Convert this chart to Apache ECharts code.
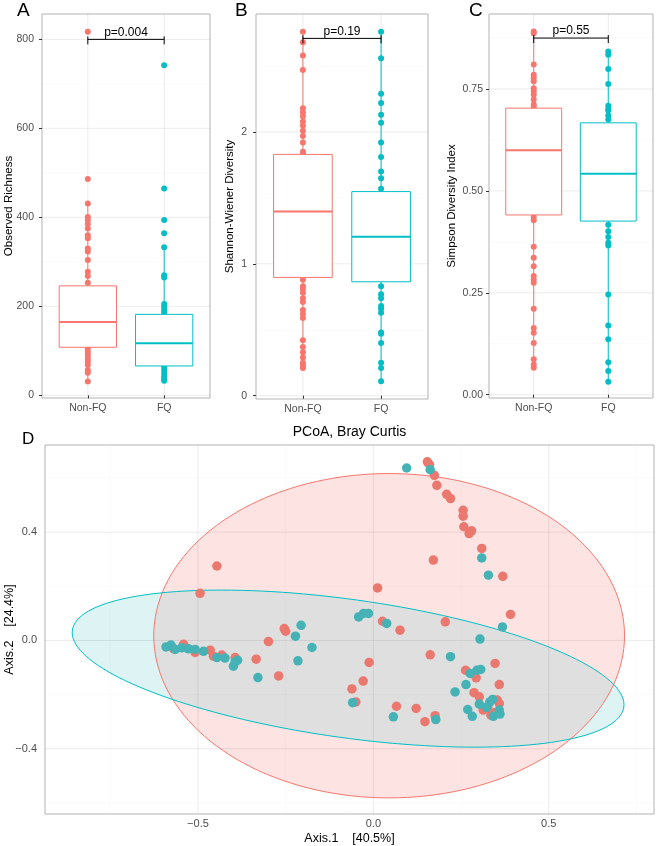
<!DOCTYPE html>
<html><head><meta charset="utf-8">
<script src="https://cdn.jsdelivr.net/npm/echarts@6/dist/echarts.min.js"></script>
<style>html,body{margin:0;padding:0;background:#fff}#c{width:657px;height:846px}</style>
</head><body><div id="c"></div>
<script>
const categories = ['Non-FQ', 'FQ'];

// Panel A: Observed Richness (visible points)
const richnessNonFQ = [817, 486, 431, 401, 394, 385, 375, 360, 353, 330, 323, 304, 278, 268, 253, 106, 98, 91, 83, 76, 68, 57, 51, 31];
const richnessFQ = [742, 465, 394, 364, 333, 270, 265, 205, 199, 192, 186, 64, 57, 49, 42, 36, 33];
// box stats: [lower whisker, Q1, median, Q3, upper whisker]
const richnessBoxNonFQ = [31, 108, 165, 246, 431];
const richnessBoxFQ = [33, 66, 117, 182, 333];
const richnessTicks = [0, 200, 400, 600, 800];
const richnessMinor = [100, 300, 500, 700];
const richnessBracket = [1, 2, 800];
const richnessP = 'p=0.004';

// Panel B: Shannon-Wiener Diversity
const shannonNonFQ = [2.76, 2.68, 2.58, 2.47, 2.18, 2.15, 2.12, 2.08, 2.05, 2.01, 1.97, 1.92, 1.85, 1.84, 0.88, 0.83, 0.81, 0.78, 0.74, 0.71, 0.65, 0.62, 0.59, 0.42, 0.37, 0.33, 0.29, 0.25, 0.23, 0.21];
const shannonFQ = [2.76, 2.56, 2.29, 2.22, 2.13, 2.07, 1.92, 1.81, 1.70, 1.65, 1.57, 0.83, 0.77, 0.74, 0.68, 0.66, 0.63, 0.48, 0.47, 0.40, 0.25, 0.21, 0.11];
const shannonBoxNonFQ = [0.21, 0.897, 1.397, 1.83, 2.76];
const shannonBoxFQ = [0.11, 0.864, 1.205, 1.548, 2.76];
const shannonTicks = [0, 1, 2];
const shannonMinor = [0.5, 1.5, 2.5];
const shannonBracket = [1, 2, 2.71];
const shannonP = 'p=0.19';

// Panel C: Simpson Diversity Index
const simpsonNonFQ = [0.891, 0.887, 0.81, 0.785, 0.777, 0.769, 0.752, 0.744, 0.736, 0.724, 0.712, 0.706, 0.436, 0.428, 0.363, 0.336, 0.315, 0.291, 0.283, 0.275, 0.211, 0.164, 0.152, 0.127, 0.087, 0.074, 0.066];
const simpsonFQ = [0.842, 0.834, 0.799, 0.762, 0.709, 0.701, 0.697, 0.685, 0.675, 0.417, 0.401, 0.387, 0.373, 0.366, 0.246, 0.170, 0.136, 0.080, 0.058, 0.032];
const simpsonBoxNonFQ = [0.066, 0.441, 0.600, 0.703, 0.891];
const simpsonBoxFQ = [0.032, 0.426, 0.542, 0.667, 0.842];
const simpsonTicks = [0, 0.25, 0.5, 0.75];
const simpsonMinor = [0.125, 0.375, 0.625, 0.875];
const simpsonBracket = [1, 2, 0.875];
const simpsonP = 'p=0.55';

// Panel D: PCoA, Bray Curtis  [Axis.1, Axis.2]
const pcoaNonFQ = [
 [-0.446,0.275],[-0.494,0.174],[-0.254,0.044],[-0.250,0.034],[-0.299,-0.004],[-0.334,-0.069],[-0.270,-0.131],
 [-0.570,-0.030],[-0.541,-0.014],[-0.508,-0.044],[-0.465,-0.036],[-0.456,-0.058],[-0.432,-0.054],[-0.394,-0.063],
 [0.154,0.660],[0.160,0.650],[0.174,0.610],[0.181,0.573],[0.209,0.540],[0.220,0.524],[0.256,0.481],[0.256,0.459],
 [0.258,0.420],[0.273,0.395],[0.280,0.405],[0.309,0.340],[0.171,0.297],[0.369,0.237],[0.012,0.194],[0.391,0.096],
 [0.026,0.071],[0.076,0.038],[0.205,0.069],[0.162,-0.053],[-0.012,-0.081],[0.347,-0.085],[0.263,-0.110],[0.293,-0.138],
 [-0.029,-0.150],[-0.061,-0.179],[0.359,-0.163],[0.287,-0.193],[-0.050,-0.227],[0.302,-0.208],[0.066,-0.243],[0.122,-0.251],
 [0.147,-0.300],[0.176,-0.278],[0.313,-0.257],[0.335,-0.276],[0.353,-0.220],[0.359,-0.233],[0.344,-0.267],[0.326,-0.247]
];
const pcoaFQ = [
 [-0.206,0.056],[-0.222,0.016],[-0.175,-0.026],[-0.215,-0.075],[-0.329,-0.137],
 [-0.591,-0.024],[-0.577,-0.017],[-0.565,-0.033],[-0.546,-0.027],[-0.527,-0.031],[-0.508,-0.033],[-0.484,-0.040],
 [-0.446,-0.063],[-0.423,-0.065],[-0.399,-0.095],[-0.394,-0.079],[-0.387,-0.073],
 [0.095,0.637],[0.162,0.631],[0.309,0.305],[0.328,0.241],[0.368,0.050],[-0.042,0.087],[-0.028,0.100],[-0.014,0.100],
 [0.038,0.063],[0.304,0.005],[0.220,-0.060],[0.276,-0.122],[0.295,-0.110],[0.306,-0.107],[0.264,-0.163],[0.233,-0.190],
 [-0.059,-0.230],[0.057,-0.282],[0.178,-0.292],[0.269,-0.255],[0.282,-0.280],[0.302,-0.235],[0.332,-0.227],[0.340,-0.218],
 [0.359,-0.257],[0.361,-0.272],[0.342,-0.280],[0.323,-0.247]
];
// ellipses: [cx, cy, axis1x, axis1y, axis2x, axis2y] in data units
const ellipseNonFQ = [0.045, 0.0175, 0.671, 0.0, 0.0, 0.599];
const ellipseFQ = [-0.072, -0.104, 0.786, -0.142, -0.027, -0.253];
const pcoaXTicks = [-0.5, 0, 0.5];
const pcoaXMinor = [-0.75, -0.25, 0.25, 0.75];
const pcoaYTicks = [-0.4, 0, 0.4];
const pcoaYMinor = [-0.6, -0.2, 0.2, 0.6];

const RED = '#F8766D', TEAL = '#00BFC4';
const FONT = '"Liberation Sans", Arial, sans-serif';
const catPos = [1, 2];

function gridLinesSeries(gi, xMaj, xMin, yMaj, yMin, z) {
  const data = [];
  xMin.forEach(v => data.push([1, v, 0]));
  yMin.forEach(v => data.push([0, v, 0]));
  xMaj.forEach(v => data.push([1, v, 1]));
  yMaj.forEach(v => data.push([0, v, 1]));
  return {
    type: 'custom', xAxisIndex: gi, yAxisIndex: gi, silent: true, z, data,
    renderItem: (params, api) => {
      const cs = params.coordSys;
      const o = api.value(0), v = api.value(1), maj = api.value(2);
      const style = { stroke: maj ? 'rgba(0,0,0,0.08)' : 'rgba(0,0,0,0.04)', lineWidth: maj ? 1 : 0.6 };
      if (o === 0) {
        const y = api.coord([0, v])[1];
        return { type: 'line', shape: { x1: cs.x, y1: y, x2: cs.x + cs.width, y2: y }, style };
      }
      const x = api.coord([v, 0])[0];
      return { type: 'line', shape: { x1: x, y1: cs.y, x2: x, y2: cs.y + cs.height }, style };
    }
  };
}

function pointsSeries(gi, vals, cat, color) {
  return { type: 'scatter', xAxisIndex: gi, yAxisIndex: gi, z: 2, symbolSize: 6, silent: true,
    itemStyle: { color, opacity: 1 }, data: vals.map(v => [cat, v]) };
}

function boxSeries(gi, boxA, boxB) {
  const colors = [RED, TEAL];
  return {
    type: 'custom', xAxisIndex: gi, yAxisIndex: gi, z: 3, silent: true,
    encode: { x: 0, y: [1, 2, 3, 4, 5] },
    data: [[1].concat(boxA), [2].concat(boxB)],
    renderItem: (params, api) => {
      const c = colors[params.dataIndex];
      const x = api.value(0);
      const lo = api.coord([x, api.value(1)]), q1 = api.coord([x, api.value(2)]),
            md = api.coord([x, api.value(3)]), q3 = api.coord([x, api.value(4)]), hi = api.coord([x, api.value(5)]);
      const l = api.coord([x - 0.375, 0])[0], r = api.coord([x + 0.375, 0])[0];
      return { type: 'group', children: [
        { type: 'line', shape: { x1: lo[0], y1: lo[1], x2: q1[0], y2: q1[1] }, style: { stroke: c, lineWidth: 1 } },
        { type: 'line', shape: { x1: q3[0], y1: q3[1], x2: hi[0], y2: hi[1] }, style: { stroke: c, lineWidth: 1 } },
        { type: 'rect', shape: { x: l, y: q3[1], width: r - l, height: q1[1] - q3[1] }, style: { fill: '#fff', stroke: c, lineWidth: 1 } },
        { type: 'line', shape: { x1: l, y1: md[1], x2: r, y2: md[1] }, style: { stroke: c, lineWidth: 2 } }
      ]};
    }
  };
}

function bracketSeries(gi, br, label) {
  return {
    type: 'custom', xAxisIndex: gi, yAxisIndex: gi, z: 4, silent: true,
    data: [br],
    renderItem: (params, api) => {
      const p1 = api.coord([api.value(0), api.value(2)]), p2 = api.coord([api.value(1), api.value(2)]);
      const st = { stroke: '#000', lineWidth: 1 };
      return { type: 'group', children: [
        { type: 'line', shape: { x1: p1[0], y1: p1[1], x2: p2[0], y2: p2[1] }, style: st },
        { type: 'line', shape: { x1: p1[0], y1: p1[1] - 3, x2: p1[0], y2: p1[1] + 5 }, style: st },
        { type: 'line', shape: { x1: p2[0], y1: p2[1] - 3, x2: p2[0], y2: p2[1] + 5 }, style: st },
        { type: 'text', x: (p1[0] + p2[0]) / 2, y: p1[1] - 1,
          style: { text: label, fill: '#000', font: '12px ' + FONT, align: 'center', verticalAlign: 'bottom' } }
      ]};
    }
  };
}

function ellipsePoints(e, api) {
  const pts = [];
  for (let i = 0; i < 160; i++) {
    const t = i / 160 * Math.PI * 2;
    const x = e[0] + e[2] * Math.cos(t) + e[4] * Math.sin(t);
    const y = e[1] + e[3] * Math.cos(t) + e[5] * Math.sin(t);
    pts.push(api.coord([x, y]));
  }
  return pts;
}
// Sutherland-Hodgman clipping of a polygon by a convex polygon
function clipPoly(subject, clip) {
  let area = 0;
  for (let i = 0; i < clip.length; i++) { const a = clip[i], b = clip[(i + 1) % clip.length]; area += a[0] * b[1] - b[0] * a[1]; }
  const s = Math.sign(area);
  const inside = (p, a, b) => s * ((b[0] - a[0]) * (p[1] - a[1]) - (b[1] - a[1]) * (p[0] - a[0])) >= 0;
  const inter = (p, q, a, b) => {
    const d = (p[0] - q[0]) * (a[1] - b[1]) - (p[1] - q[1]) * (a[0] - b[0]);
    const t = ((p[0] - a[0]) * (a[1] - b[1]) - (p[1] - a[1]) * (a[0] - b[0])) / d;
    return [p[0] + t * (q[0] - p[0]), p[1] + t * (q[1] - p[1])];
  };
  let out = subject;
  for (let i = 0; i < clip.length && out.length; i++) {
    const a = clip[i], b = clip[(i + 1) % clip.length];
    const inp = out; out = [];
    for (let j = 0; j < inp.length; j++) {
      const p = inp[j], q = inp[(j + 1) % inp.length];
      const pin = inside(p, a, b), qin = inside(q, a, b);
      if (pin) { out.push(p); if (!qin) out.push(inter(p, q, a, b)); }
      else if (qin) out.push(inter(p, q, a, b));
    }
  }
  return out;
}
function ellipseFill(e, fill) {
  return {
    type: 'custom', xAxisIndex: 3, yAxisIndex: 3, z: 2, silent: true, data: [[0, 0]],
    renderItem: (params, api) => ({ type: 'polygon', shape: { points: ellipsePoints(e, api) }, style: { fill, stroke: null } })
  };
}
function overlapFill(e1, e2, fill) {
  return {
    type: 'custom', xAxisIndex: 3, yAxisIndex: 3, z: 2, silent: true, data: [[0, 0]],
    renderItem: (params, api) => ({ type: 'polygon', shape: { points: clipPoly(ellipsePoints(e1, api), ellipsePoints(e2, api)) }, style: { fill, stroke: null } })
  };
}
function ellipseOutline(e, stroke) {
  return {
    type: 'custom', xAxisIndex: 3, yAxisIndex: 3, z: 4, silent: true, data: [[0, 0]],
    renderItem: (params, api) => ({ type: 'polygon', shape: { points: ellipsePoints(e, api) }, style: { fill: null, stroke, lineWidth: 1 } })
  };
}

function catAxis(gi) {
  return { type: 'value', gridIndex: gi, min: 0.4, max: 2.6,
    splitLine: { show: false }, axisLine: { show: false },
    axisTick: { show: true, length: 3, lineStyle: { color: '#333' }, customValues: catPos },
    axisLabel: { customValues: catPos, formatter: v => categories[Math.round(v) - 1], fontSize: 10.5, color: '#4d4d4d', margin: 5, fontFamily: FONT } };
}
function valAxis(gi, min, max, ticks, fmt, name, gap, margin, fs, nfs) {
  return { type: 'value', gridIndex: gi, min, max,
    name, nameLocation: 'middle', nameGap: gap, nameMoveOverlap: false,
    nameTextStyle: { fontSize: nfs, color: '#000', fontFamily: FONT },
    splitLine: { show: false }, axisLine: { show: false },
    axisTick: { show: true, length: 3, lineStyle: { color: '#333' }, customValues: ticks },
    axisLabel: { customValues: ticks, formatter: fmt, fontSize: fs, color: '#4d4d4d', margin, fontFamily: FONT } };
}
const minusFmt = d => (v => (v < 0 ? '\u2212' : '') + Math.abs(v).toFixed(d));

const gridStyle = { show: true, borderColor: '#b3b3b3', borderWidth: 1, backgroundColor: '#fff', containLabel: false, outerBoundsMode: 'none' };
const option = {
  backgroundColor: '#fff',
  animation: false,
  textStyle: { fontFamily: FONT },
  grid: [
    Object.assign({ left: 42, top: 14, width: 168, height: 384 }, gridStyle),
    Object.assign({ left: 256, top: 14, width: 172, height: 385 }, gridStyle),
    Object.assign({ left: 489, top: 14, width: 164, height: 384 }, gridStyle),
    Object.assign({ left: 45, top: 445, width: 609, height: 369 }, gridStyle)
  ],
  xAxis: [catAxis(0), catAxis(1), catAxis(2),
    { type: 'value', gridIndex: 3, min: -0.936, max: 0.80,
      name: 'Axis.1    [40.5%]', nameLocation: 'middle', nameGap: 18, nameMoveOverlap: false,
      nameTextStyle: { fontSize: 12.5, color: '#000', fontFamily: FONT },
      splitLine: { show: false }, axisLine: { show: false },
      axisTick: { show: true, length: 3, lineStyle: { color: '#333' }, customValues: pcoaXTicks },
      axisLabel: { customValues: pcoaXTicks, formatter: minusFmt(1), fontSize: 11, color: '#4d4d4d', margin: 4, fontFamily: FONT } }
  ],
  yAxis: [
    valAxis(0, -6, 857, richnessTicks, v => String(v), 'Observed Richness', 27, 8, 10.5, 11.5),
    valAxis(1, -0.025, 2.895, shannonTicks, v => String(v), 'Shannon-Wiener Diversity', 20, 9, 10.5, 11.5),
    valAxis(2, -0.008, 0.934, simpsonTicks, v => v.toFixed(2), 'Simpson Diversity Index', 31, 6, 10.5, 11.5),
    valAxis(3, -0.641, 0.722, pcoaYTicks, minusFmt(1), 'Axis.2    [24.4%]', 29, 8, 11, 12.5)
  ],
  series: [
    gridLinesSeries(0, catPos, [], richnessTicks, richnessMinor, 1),
    gridLinesSeries(1, catPos, [], shannonTicks, shannonMinor, 1),
    gridLinesSeries(2, catPos, [], simpsonTicks, simpsonMinor, 1),
    pointsSeries(0, richnessNonFQ, 1, RED), pointsSeries(0, richnessFQ, 2, TEAL),
    pointsSeries(1, shannonNonFQ, 1, RED), pointsSeries(1, shannonFQ, 2, TEAL),
    pointsSeries(2, simpsonNonFQ, 1, RED), pointsSeries(2, simpsonFQ, 2, TEAL),
    boxSeries(0, richnessBoxNonFQ, richnessBoxFQ),
    boxSeries(1, shannonBoxNonFQ, shannonBoxFQ),
    boxSeries(2, simpsonBoxNonFQ, simpsonBoxFQ),
    bracketSeries(0, richnessBracket, richnessP),
    bracketSeries(1, shannonBracket, shannonP),
    bracketSeries(2, simpsonBracket, simpsonP),
    ellipseFill(ellipseNonFQ, '#FDE4E3'),
    ellipseFill(ellipseFQ, '#DDF3F4'),
    overlapFill(ellipseFQ, ellipseNonFQ, '#DFDFDF'),
    gridLinesSeries(3, pcoaXTicks, pcoaXMinor, pcoaYTicks, pcoaYMinor, 3),
    ellipseOutline(ellipseNonFQ, RED),
    ellipseOutline(ellipseFQ, TEAL),
    { type: 'scatter', xAxisIndex: 3, yAxisIndex: 3, z: 5, silent: true, symbolSize: 9.5,
      itemStyle: { color: '#EA786F', opacity: 1 }, data: pcoaNonFQ },
    { type: 'scatter', xAxisIndex: 3, yAxisIndex: 3, z: 5, silent: true, symbolSize: 9.5,
      itemStyle: { color: '#45B2B6', opacity: 1 }, data: pcoaFQ }
  ],
  graphic: [
    { type: 'text', left: 17, top: 1, style: { text: 'A', font: '19px ' + FONT, fill: '#000' } },
    { type: 'text', left: 235, top: 1, style: { text: 'B', font: '19px ' + FONT, fill: '#000' } },
    { type: 'text', left: 469, top: 1, style: { text: 'C', font: '19px ' + FONT, fill: '#000' } },
    { type: 'text', left: 22, top: 431, style: { text: 'D', font: '17px ' + FONT, fill: '#000' } },
    { type: 'text', x: 349.5, y: 432, style: { text: 'PCoA, Bray Curtis', font: '14px ' + FONT, fill: '#000', align: 'center', verticalAlign: 'middle' } }
  ]
};
const chart = echarts.init(document.getElementById('c'), null, { renderer: 'canvas' });
chart.setOption(option);
</script>
</body></html>
